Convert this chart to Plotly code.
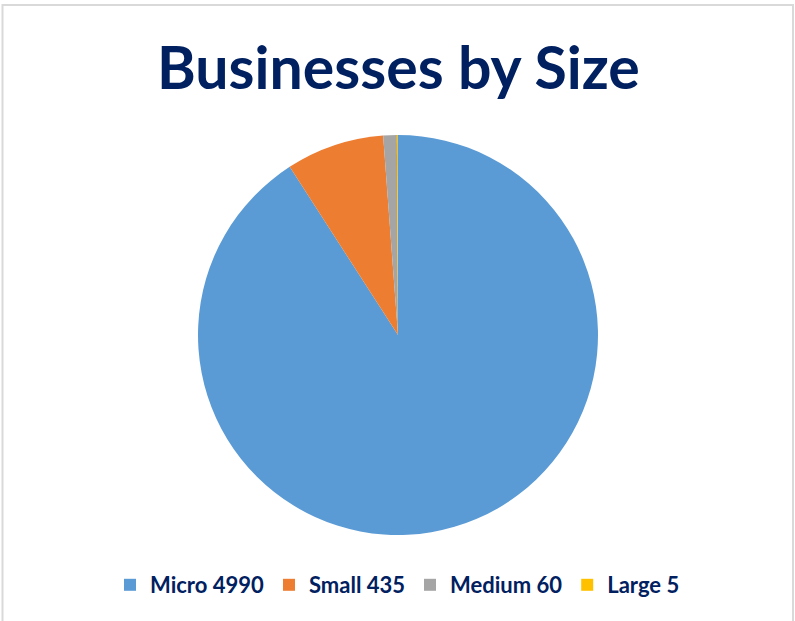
import plotly.graph_objects as go

categories = ["Micro", "Small", "Medium", "Large"]
values = [4990, 435, 60, 5]
colors = ["#5b9bd5", "#ed7d31", "#a5a5a5", "#ffc000"]
title_text = "Businesses by Size"

W, H = 795, 621
labels = [f"{c} {v}" for c, v in zip(categories, values)]

fig = go.Figure()
fig.add_trace(go.Pie(
    labels=labels,
    values=values,
    sort=False,
    direction="clockwise",
    rotation=0,
    marker=dict(colors=colors, line=dict(width=0)),
    textinfo="none",
    hoverinfo="label+percent",
    domain=dict(x=[198 / W, 598 / W], y=[(H - 535) / H, (H - 135) / H]),
))

fig.update_layout(
    width=W, height=H,
    margin=dict(l=0, r=0, t=0, b=0),
    paper_bgcolor="white",
    showlegend=True,
    legend=dict(
        orientation="h",
        x=0.5, xanchor="center",
        y=(H - 585) / H, yanchor="middle",
        font=dict(family="Lato", size=22, color="#002060", weight="bold"),
        itemwidth=30,
        traceorder="normal",
    ),
    annotations=[dict(
        text="<b>" + title_text + "</b>",
        x=398 / W, xref="paper", xanchor="center",
        y=(H - 66) / H, yref="paper", yanchor="middle",
        showarrow=False,
        font=dict(family="Lato", size=59, color="#002060"),
    )],
    shapes=[dict(
        type="rect", xref="paper", yref="paper",
        x0=2.5 / W, x1=793 / W, y0=-0.02, y1=(H - 5) / H,
        line=dict(color="#d9d9d9", width=2),
        fillcolor="rgba(0,0,0,0)",
    )],
)

fig.write_html("out.html", config={"displayModeBar": False},
               post_script="document.body.style.margin='0';")
